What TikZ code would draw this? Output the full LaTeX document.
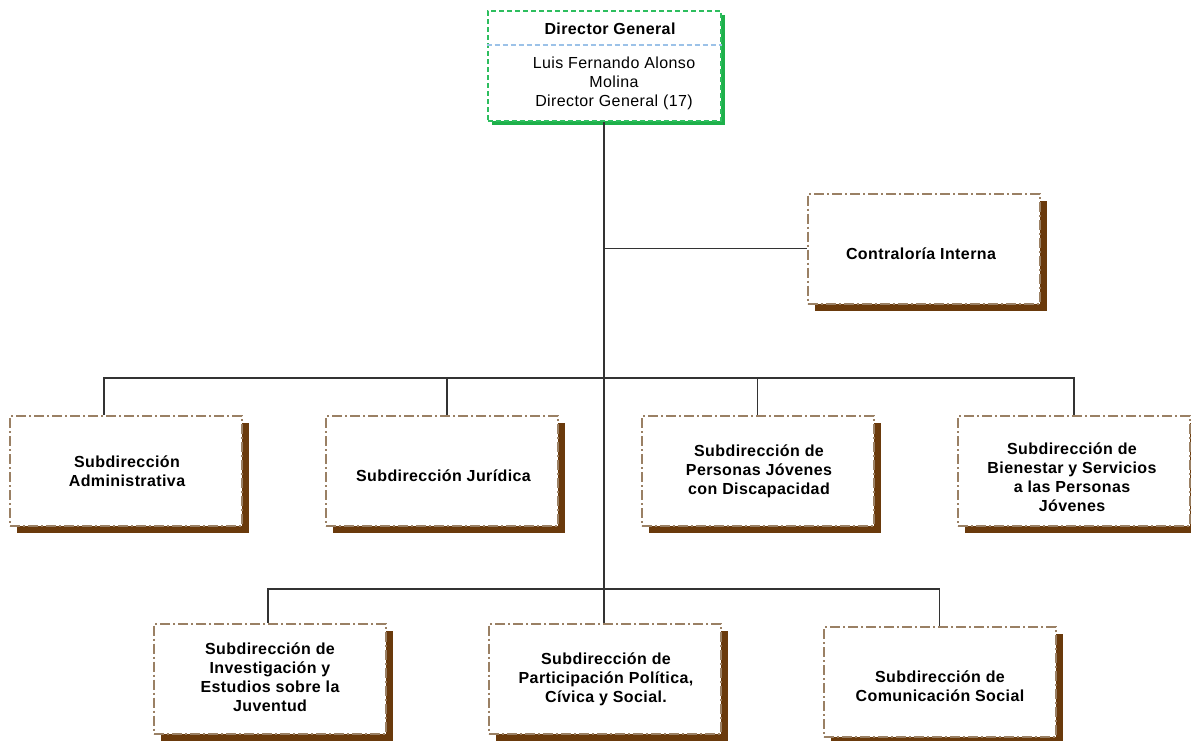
\documentclass[tikz,border=0pt]{standalone}
\usepackage{fontspec}
\setmainfont{Liberation Sans}[LetterSpace=2.5]
\usetikzlibrary{shadows}
\definecolor{boxc}{HTML}{9A8064}
\definecolor{shadc}{HTML}{6A3A0C}
\definecolor{greenc}{HTML}{2DBE5E}
\definecolor{greensh}{HTML}{1EB04A}
\definecolor{divc}{HTML}{9CC2E8}
\definecolor{connc}{HTML}{333333}
\tikzset{
  unitbox/.style={draw=boxc, line width=2pt, dash pattern=on 10pt off 3pt on 2pt off 3pt,
    fill=white, minimum width=232pt, minimum height=110pt, inner sep=0pt,
    drop shadow={shadow xshift=7pt, shadow yshift=-7pt, fill=shadc, opacity=1}},
  boxtext/.style={align=center, inner sep=0pt, font=\bfseries\fontsize{16}{19}\selectfont},
  dirbox/.style={draw=greenc, line width=2pt, dash pattern=on 5pt off 3pt, fill=white,
    minimum width=233pt, minimum height=110pt, inner sep=0pt,
    drop shadow={shadow xshift=4pt, shadow yshift=-4pt, fill=greensh, opacity=1}},
  dirtitle/.style={font=\bfseries\fontsize{16}{19}\selectfont, inner sep=0pt},
  dirbody/.style={font=\fontsize{16}{19}\selectfont, align=center, inner sep=0pt},
  divider/.style={draw=divc, line width=1.6pt, dash pattern=on 5pt off 3pt},
  conn/.style={draw=connc, line width=1.8pt}
}
\begin{document}
\begin{tikzpicture}[x=1pt,y=-1pt]
\useasboundingbox (0,0) rectangle (1191,740);
\fill[white] (0,0) rectangle (1191,740);

% Director
\node[dirbox] (dir) at (604,66) {};
\draw[divider] ([yshift=-35pt]dir.north west) -- ([yshift=-35pt]dir.north east);
\node[dirtitle] (dirT) at (610,29) {Director General};
\node[dirbody] (dirB) at (614,83) {Luis Fernando Alonso\\Molina\\Director General (17)};

% Contraloria
\node[unitbox] (cont) at (923.5,248.5) {};
\node[boxtext] (contT) at (921,254) {Contralor\'ia Interna};

% Row 1
\node[unitbox] (sub1) at (126,471) {};
\node[boxtext] (sub1T) at (127,471) {Subdirecci\'on\\Administrativa};
\node[unitbox] (sub2) at (442,471) {};
\node[boxtext] (sub2T) at (443.5,476) {Subdirecci\'on Jur\'idica};
\node[unitbox] (sub3) at (757.5,471) {};
\node[boxtext] (sub3T) at (759,471) {Subdirecci\'on de\\Personas J\'ovenes\\con Discapacidad};
\node[unitbox] (sub4) at (1074,471) {};
\node[boxtext] (sub4T) at (1072,477.5) {Subdirecci\'on de\\Bienestar y Servicios\\a las Personas\\J\'ovenes};

% Row 2
\node[unitbox] (sub5) at (270,678.5) {};
\node[boxtext] (sub5T) at (270,677.5) {Subdirecci\'on de\\Investigaci\'on y\\Estudios sobre la\\Juventud};
\node[unitbox] (sub6) at (605,678.5) {};
\node[boxtext] (sub6T) at (606,679) {Subdirecci\'on de\\Participaci\'on Pol\'itica,\\C\'ivica y Social.};
\node[unitbox] (sub7) at (939.5,682) {};
\node[boxtext] (sub7T) at (940,686.5) {Subdirecci\'on de\\Comunicaci\'on Social};

% Connectors
\coordinate (r1) at (604,378);
\coordinate (r2) at (604,589);
\draw[conn] (dir.south) -- (dir.south |- sub6.north);
\draw[conn] (dir.south |- cont.west) -- (cont.west);
\draw[conn] ([xshift=-22pt]sub1.north) -- ([xshift=-22pt]sub1.north |- r1) -| (sub4.north);
\draw[conn] ([xshift=5pt]sub2.north) -- ([xshift=5pt]sub2.north |- r1);
\draw[conn] (sub3.north) -- (sub3.north |- r1);
\draw[conn] ([xshift=-2pt]sub5.north) -- ([xshift=-2pt]sub5.north |- r2) -| (sub7.north);
\end{tikzpicture}
\end{document}
